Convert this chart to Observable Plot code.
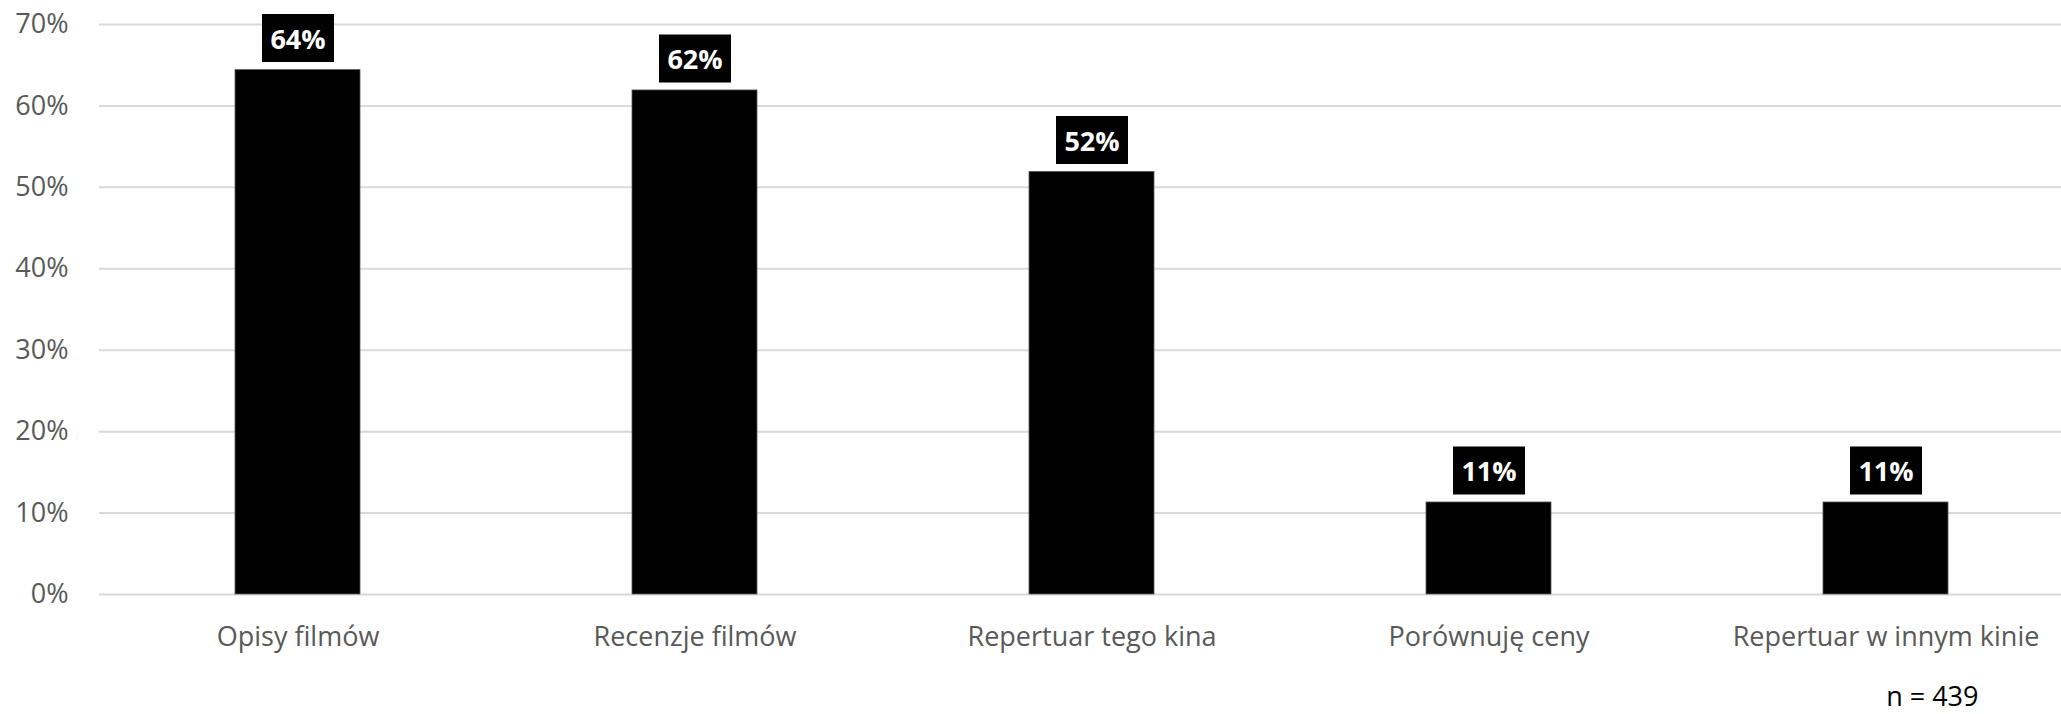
<!DOCTYPE html>
<html>
<head>
<meta charset="utf-8">
<script src="https://cdn.jsdelivr.net/npm/d3@7"></script>
<script src="https://cdn.jsdelivr.net/npm/@observablehq/plot@0.6"></script>
<style>
  html, body { margin: 0; padding: 0; background: #fff; }
  #chart svg { display: block; }
</style>
</head>
<body>
<div id="chart"></div>
<script>
const categories = ["Opisy filmów", "Recenzje filmów", "Repertuar tego kina", "Porównuję ceny", "Repertuar w innym kinie"];
const values = [64.4, 61.9, 51.9, 11.3, 11.3];
const valueLabels = ["64%", "62%", "52%", "11%", "11%"];
const yTicks = [0, 10, 20, 30, 40, 50, 60, 70];
const note = "n = 439";

const data = categories.map((c, i) => ({category: c, value: values[i], label: valueLabels[i]}));

const boxSymbol = { draw(ctx) { ctx.rect(-36, -24, 72, 48); } };

const chart = Plot.plot({
  width: 2061,
  height: 714,
  marginTop: 24,
  marginBottom: 120,
  marginLeft: 99,
  marginRight: 0,
  style: {fontFamily: "'Open Sans', sans-serif", background: "#fff"},
  x: {domain: categories, range: [98.5, 2083.5], paddingInner: 0.686, paddingOuter: 0.343, label: null},
  y: {domain: [0, 70], label: null},
  marks: [
    Plot.gridY(yTicks, {stroke: "#d9d9d9", strokeOpacity: 1, strokeWidth: 2}),
    Plot.axisY(yTicks, {tickSize: 0, tickPadding: 31, tickFormat: d => d + "%", fontSize: 27, fill: "#595959", label: null}),
    Plot.axisX({tickSize: 0, tickPadding: 32.5, fontSize: 27, fill: "#595959", label: null}),
    Plot.barY(data, {x: "category", y: "value", fill: "#000", stroke: "#595959", strokeWidth: 0.8}),
    Plot.dot(data, {x: "category", y: "value", symbol: boxSymbol, fill: "#000", stroke: null, dy: -32}),
    Plot.text(data, {x: "category", y: "value", text: "label", fill: "#fff", fontWeight: "bold", fontSize: 27, dy: -30, lineAnchor: "middle"}),
    Plot.text([note], {frameAnchor: "bottom-right", text: d => d, textAnchor: "end", lineAnchor: "bottom", dx: -83, dy: 111, fontSize: 27, fill: "#000"})
  ]
});
document.getElementById("chart").append(chart);
</script>
</body>
</html>
